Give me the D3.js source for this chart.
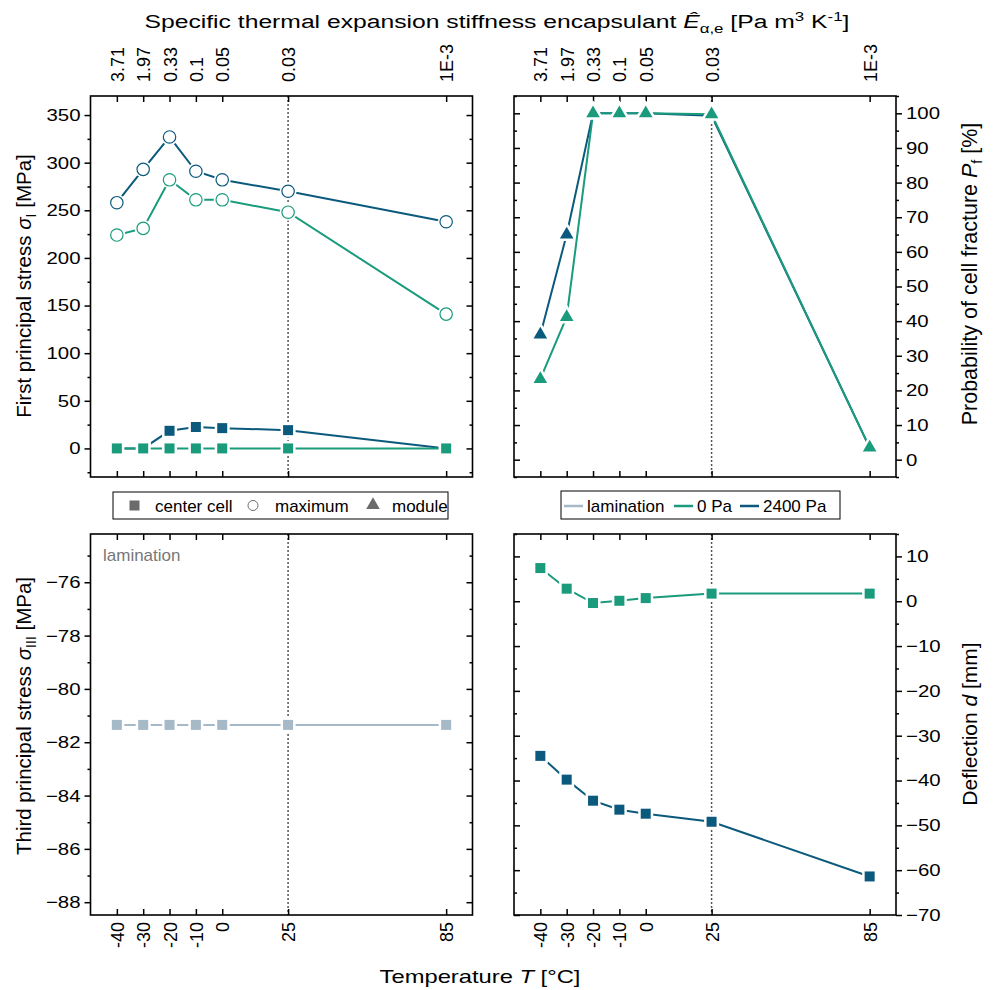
<!DOCTYPE html>
<html><head><meta charset="utf-8">
<script src="https://cdn.jsdelivr.net/npm/d3@7"></script>
<style>
body{margin:0;background:#fff;}
text{font-family:"Liberation Sans",Arial,sans-serif;}
</style></head>
<body>
<svg id="chart" width="993" height="990"></svg>
<script>
// ---------------- data ----------------
const temps = [-40, -30, -20, -10, 0, 25, 85];
const stiffLabels = ["3.71", "1.97", "0.33", "0.1", "0.05", "0.03", "1E-3"];
const maxStress0 = [224, 231, 282, 261, 261, 248, 141];
const maxStress2400 = [258, 293, 327, 291, 282, 270, 238];
const centerStress0 = [0, 0, 0, 0, 0, 0, 0];
const centerStress2400 = [0, 0, 18.5, 22.5, 21.3, 19.2, 0];
const pf0 = [23.3, 41.2, 100, 100, 100, 99.7, 3.5];
const pf2400 = [36.1, 65, 100, 100, 100, 99.3, 3.5];
const lamStress = [-81.35, -81.35, -81.35, -81.35, -81.35, -81.35, -81.35];
const defl0 = [7.4, 2.8, -0.4, 0.1, 0.7, 1.7, 1.7];
const defl2400 = [-34.5, -39.8, -44.5, -46.5, -47.4, -49.2, -61.4];
const stressTicks = [0, 50, 100, 150, 200, 250, 300, 350];
const pfTicks = [0, 10, 20, 30, 40, 50, 60, 70, 80, 90, 100];
const s3Ticks = [-88, -86, -84, -82, -80, -78, -76];
const deflTicks = [-70, -60, -50, -40, -30, -20, -10, 0, 10];

const C0 = "#1a9b7c", C2400 = "#0b5a7d", CLAM = "#a6b9c6", CLEG = "#6b6b6b";
const SX = 1.2; // horizontal stretch of horizontal tick labels

const svg = d3.select("#chart");

function panel(o) {
  const g = svg.append("g");
  const x = d3.scaleLinear().domain([-50, 95]).range([o.x0, o.x0 + o.w]);
  const y = d3.scaleLinear().domain(o.yDomain).range([o.y0 + o.h, o.y0]);
  g.append("line").attr("x1", x(25)).attr("x2", x(25)).attr("y1", o.y0).attr("y2", o.y0 + o.h)
    .attr("stroke", "#555").attr("stroke-width", 1.5).attr("stroke-dasharray", "2,2");
  const minors = d3.range(o.yDomain[0], o.yDomain[1] + 1e-9, o.minorStep)
    .map(v => Math.round(v / o.minorStep) * o.minorStep)
    .filter(v => v >= o.yDomain[0] && v <= o.yDomain[1] && !o.yTicks.some(t => Math.abs(t - v) < 1e-9));
  const labelRight = o.side === "right";
  const ax = (labelRight ? d3.axisRight(y) : d3.axisLeft(y)).tickValues(o.yTicks).tickSize(6).tickPadding(4).tickFormat(d3.format("d"));
  const gy = g.append("g").attr("transform", `translate(${labelRight ? o.x0 + o.w : o.x0},0)`).call(ax);
  gy.select(".domain").remove();
  gy.selectAll("text").attr("font-size", 17).attr("fill", "#000")
    .attr("x", (labelRight ? 10 : -10) / SX).attr("transform", `scale(${SX},1)`);
  gy.selectAll("line").attr("stroke-width", 1.5);
  const axm = (labelRight ? d3.axisRight(y) : d3.axisLeft(y)).tickValues(minors).tickSize(3).tickFormat("");
  const gym = g.append("g").attr("transform", `translate(${labelRight ? o.x0 + o.w : o.x0},0)`).call(axm);
  gym.select(".domain").remove(); gym.selectAll("line").attr("stroke-width", 1.5);
  const gm = g.append("g").attr("transform", `translate(${labelRight ? o.x0 : o.x0 + o.w},0)`)
    .call((labelRight ? d3.axisLeft(y) : d3.axisRight(y)).tickValues(o.yTicks).tickSize(-6).tickFormat(""));
  gm.select(".domain").remove(); gm.selectAll("line").attr("stroke-width", 1.5);
  const gm2 = g.append("g").attr("transform", `translate(${labelRight ? o.x0 : o.x0 + o.w},0)`)
    .call((labelRight ? d3.axisLeft(y) : d3.axisRight(y)).tickValues(minors).tickSize(-3).tickFormat(""));
  gm2.select(".domain").remove(); gm2.selectAll("line").attr("stroke-width", 1.5);
  const gt = g.append("g").attr("transform", `translate(0,${o.y0})`)
    .call(d3.axisTop(x).tickValues(temps).tickSize(-6).tickFormat((d, i) => o.topLabels ? stiffLabels[i] : ""));
  gt.select(".domain").remove(); gt.selectAll("line").attr("stroke-width", 1.5);
  gt.selectAll("text").attr("font-size", 18).attr("fill", "#000")
    .attr("transform", "rotate(-90)").attr("x", 14).attr("y", 0).attr("dy", "0.36em").attr("text-anchor", "start");
  const gb = g.append("g").attr("transform", `translate(0,${o.y0 + o.h})`)
    .call(d3.axisBottom(x).tickValues(temps).tickSize(-6).tickFormat(d => o.bottomLabels ? d : ""));
  gb.select(".domain").remove(); gb.selectAll("line").attr("stroke-width", 1.5);
  gb.selectAll("text").attr("font-size", 18).attr("fill", "#000")
    .attr("transform", "rotate(-90)").attr("x", -7).attr("y", 0).attr("dy", "0.36em").attr("text-anchor", "end");
  g.append("rect").attr("x", o.x0).attr("y", o.y0).attr("width", o.w).attr("height", o.h)
    .attr("fill", "none").attr("stroke", "#000").attr("stroke-width", 1.6);
  const plot = g.append("g");
  return {x, y, g: plot};
}

function series(p, vals, color, marker) {
  const pts = temps.map((t, i) => [p.x(t), p.y(vals[i])]);
  p.g.append("path").attr("d", d3.line()(pts)).attr("fill", "none").attr("stroke", color).attr("stroke-width", 2);
  const sg = p.g.append("g");
  pts.forEach(([px, py]) => {
    if (marker === "square") {
      sg.append("rect").attr("x", px - 5).attr("y", py - 5).attr("width", 10).attr("height", 10)
        .attr("fill", color).attr("stroke", "#fff").attr("stroke-width", 5).style("paint-order", "stroke");
    } else if (marker === "circle") {
      sg.append("circle").attr("cx", px).attr("cy", py).attr("r", 8.5).attr("fill", "#fff");
      sg.append("circle").attr("cx", px).attr("cy", py).attr("r", 6.2).attr("fill", "#fff").attr("stroke", color).attr("stroke-width", 1.2);
    } else {
      sg.append("path").attr("transform", `translate(${px},${py})`).attr("d", d3.symbol(d3.symbolTriangle, 80)())
        .attr("fill", color).attr("stroke", "#fff").attr("stroke-width", 5).style("paint-order", "stroke");
    }
  });
}

const LX = 90.5, RX = 514, PW = 382, TY = 96, BY = 534, PH = 381;

const p1 = panel({x0: LX, y0: TY, w: PW, h: PH, yDomain: [-30, 370], yTicks: stressTicks, minorStep: 25, side: "left", topLabels: true, bottomLabels: false});
series(p1, maxStress2400, C2400, "circle");
series(p1, maxStress0, C0, "circle");
series(p1, centerStress2400, C2400, "square");
series(p1, centerStress0, C0, "square");

const p2 = panel({x0: RX, y0: TY, w: PW, h: PH, yDomain: [-5, 105], yTicks: pfTicks, minorStep: 5, side: "right", topLabels: true, bottomLabels: false});
series(p2, pf2400, C2400, "triangle");
series(p2, pf0, C0, "triangle");

const p3 = panel({x0: LX, y0: BY, w: PW, h: PH, yDomain: [-88.48, -74.19], yTicks: s3Ticks, minorStep: 1, side: "left", topLabels: false, bottomLabels: true});
series(p3, lamStress, CLAM, "square");

const p4 = panel({x0: RX, y0: BY, w: PW, h: PH, yDomain: [-70, 15], yTicks: deflTicks, minorStep: 5, side: "right", topLabels: false, bottomLabels: true});
series(p4, defl0, C0, "square");
series(p4, defl2400, C2400, "square");

svg.append("text").attr("x", 103).attr("y", 561).attr("font-size", 17).attr("fill", "#777").text("lamination");

// ---------- titles ----------
const tt = svg.append("text").attr("transform", "translate(497,28) scale(1.3,1)").attr("text-anchor", "middle").attr("font-size", 19);
tt.append("tspan").text("Specific thermal expansion stiffness encapsulant ");
tt.append("tspan").attr("font-style", "italic").text("Ê");
tt.append("tspan").attr("font-size", 13).attr("dy", 5).text("α,e");
tt.append("tspan").attr("dy", -5).text(" [Pa m");
tt.append("tspan").attr("font-size", 13).attr("dy", -7).text("3");
tt.append("tspan").attr("dy", 7).text(" K");
tt.append("tspan").attr("font-size", 13).attr("dy", -7).text("-1");
tt.append("tspan").attr("dy", 7).text("]");

const bt = svg.append("text").attr("transform", "translate(480,983) scale(1.25,1)").attr("text-anchor", "middle").attr("font-size", 19);
bt.append("tspan").text("Temperature ");
bt.append("tspan").attr("font-style", "italic").text("T");
bt.append("tspan").text(" [°C]");

function ytitle(x, y, fs, parts) {
  const t = svg.append("text").attr("transform", `translate(${x},${y}) rotate(-90)`).attr("text-anchor", "middle").attr("font-size", fs);
  parts.forEach(p => {
    const s = t.append("tspan").text(p.t);
    if (p.i) s.attr("font-style", "italic");
    if (p.sub) s.attr("font-size", 14).attr("dy", 5);
    if (p.back) s.attr("dy", -5);
  });
}
ytitle(31, 286, 20.5, [{t: "First principal stress "}, {t: "σ", i: true}, {t: "I", sub: true}, {t: " [MPa]", back: true}]);
ytitle(31, 716, 20.5, [{t: "Third principal stress "}, {t: "σ", i: true}, {t: "III", sub: true}, {t: " [MPa]", back: true}]);
ytitle(977, 274, 21.5, [{t: "Probability of cell fracture "}, {t: "P", i: true}, {t: "f", sub: true}, {t: " [%]", back: true}]);
ytitle(977, 724, 21, [{t: "Deflection "}, {t: "d", i: true}, {t: " [mm]"}]);

// ---------- legends ----------
const l1 = svg.append("g");
l1.append("rect").attr("x", 113).attr("y", 492).attr("width", 335).attr("height", 27).attr("fill", "#fff").attr("stroke", "#000").attr("stroke-width", 1);
l1.append("rect").attr("x", 129.5).attr("y", 500.5).attr("width", 10).attr("height", 10).attr("fill", CLEG);
l1.append("text").attr("x", 155).attr("y", 511.5).attr("font-size", 17).text("center cell");
l1.append("circle").attr("cx", 253).attr("cy", 505.5).attr("r", 5).attr("fill", "#fff").attr("stroke", CLEG).attr("stroke-width", 1);
l1.append("text").attr("x", 275).attr("y", 511.5).attr("font-size", 17).text("maximum");
l1.append("path").attr("transform", "translate(373,505)").attr("d", d3.symbol(d3.symbolTriangle, 80)()).attr("fill", CLEG);
l1.append("text").attr("x", 392).attr("y", 511.5).attr("font-size", 17).text("module");

const l2 = svg.append("g");
l2.append("rect").attr("x", 561).attr("y", 491).attr("width", 279).attr("height", 28).attr("fill", "#fff").attr("stroke", "#000").attr("stroke-width", 1);
const leg2 = [{t: "lamination", c: CLAM, x: 564}, {t: "0 Pa", c: C0, x: 674}, {t: "2400 Pa", c: C2400, x: 740}];
leg2.forEach(d => {
  l2.append("line").attr("x1", d.x).attr("x2", d.x + 19).attr("y1", 506).attr("y2", 506).attr("stroke", d.c).attr("stroke-width", 2.5);
  l2.append("text").attr("x", d.x + 23).attr("y", 511.5).attr("font-size", 17).text(d.t);
});
</script>
</body></html>
